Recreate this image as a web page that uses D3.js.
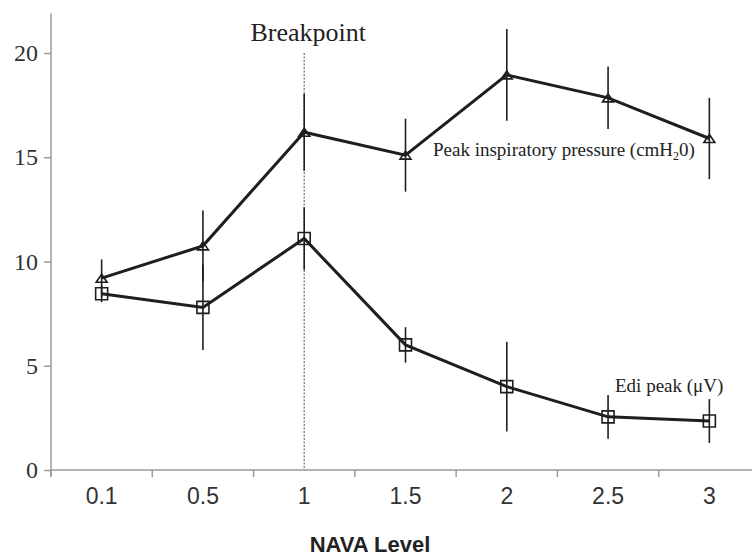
<!DOCTYPE html>
<html>
<head>
<meta charset="utf-8">
<script src="https://cdn.jsdelivr.net/npm/d3@7"></script>
<style>
  body { margin: 0; background: #fff; }
</style>
</head>
<body>
<div id="chart"></div>
<script>
var levels = ["0.1", "0.5", "1", "1.5", "2", "2.5", "3"];
var yTicks = [0, 5, 10, 15, 20];
// peak inspiratory pressure (cmH2O), mean and error
var pipMean = [9.2, 10.75, 16.2, 15.1, 18.95, 17.85, 15.9];
var pipErr = [0.9, 1.7, 1.85, 1.75, 2.2, 1.5, 1.95];
// Edi peak (uV), mean and error
var ediMean = [8.45, 7.8, 11.1, 6.0, 4.0, 2.55, 2.35];
var ediErr = [0.4, 2.05, 1.5, 0.85, 2.15, 1.05, 1.05];
var breakpoint = "1";

var width = 752, height = 558;

var svg = d3.select("#chart")
    .append("svg")
    .attr("width", width)
    .attr("height", height);

var x = d3.scaleBand().domain(levels).range([51, 760]);
var y = d3.scaleLinear().domain([0, 20]).range([470, 53]);
var cx = function (d) { return x(d) + x.bandwidth() / 2; };

var axisColor = "#9a9a9a";
var ink = "#1e1e1e";

// x axis
var xAxis = svg.append("g")
    .attr("transform", "translate(0," + y(0) + ")")
    .call(d3.axisBottom(x).tickSize(0).tickPadding(18));
xAxis.select(".domain").remove();
xAxis.append("line")
    .attr("x1", 51).attr("x2", width)
    .attr("stroke", axisColor).attr("stroke-width", 1.5);
xAxis.selectAll(".bound")
    .data(levels)
    .enter().append("line")
    .attr("x1", function (d) { return x(d); })
    .attr("x2", function (d) { return x(d); })
    .attr("y1", 0).attr("y2", 7)
    .attr("stroke", axisColor).attr("stroke-width", 1.5);
xAxis.selectAll(".tick text")
    .attr("font-family", "Liberation Sans, Arial, sans-serif")
    .attr("font-size", 23)
    .attr("fill", "#333");

// y axis
var yAxis = svg.append("g")
    .attr("transform", "translate(51,0)")
    .call(d3.axisLeft(y).tickValues(yTicks).tickSize(7).tickPadding(6));
yAxis.select(".domain").remove();
yAxis.append("line")
    .attr("y1", y(0) + 6).attr("y2", y(21.9))
    .attr("stroke", axisColor).attr("stroke-width", 1.5);
yAxis.selectAll(".tick line").attr("stroke", axisColor).attr("stroke-width", 1.5);
yAxis.selectAll(".tick text")
    .attr("font-family", "Liberation Serif, Times New Roman, serif")
    .attr("font-size", 24)
    .attr("fill", "#333");

svg.append("text")
    .attr("x", 370).attr("y", 552)
    .attr("text-anchor", "middle")
    .attr("font-family", "Liberation Sans, Arial, sans-serif")
    .attr("font-weight", "bold")
    .attr("font-size", 22)
    .attr("fill", "#222")
    .text("NAVA Level");

// breakpoint
svg.append("line")
    .attr("x1", cx(breakpoint)).attr("x2", cx(breakpoint))
    .attr("y1", y(20)).attr("y2", y(0))
    .attr("stroke", "#777").attr("stroke-width", 1.3)
    .attr("stroke-dasharray", "2,1.5");
svg.append("text")
    .attr("x", cx(breakpoint) + 4).attr("y", 41)
    .attr("text-anchor", "middle")
    .attr("font-family", "Liberation Serif, Times New Roman, serif")
    .attr("font-size", 26)
    .attr("fill", "#222")
    .text("Breakpoint");

function drawSeries(means, errs, shape) {
  var pts = levels.map(function (d, i) { return { k: d, v: means[i], e: errs[i] }; });
  var line = d3.line()
      .x(function (d) { return cx(d.k); })
      .y(function (d) { return y(d.v); });
  var g = svg.append("g");
  g.append("path")
      .datum(pts)
      .attr("d", line)
      .attr("fill", "none")
      .attr("stroke", ink)
      .attr("stroke-width", 3);
  g.selectAll(".err")
      .data(pts)
      .enter().append("line")
      .attr("x1", function (d) { return cx(d.k); })
      .attr("x2", function (d) { return cx(d.k); })
      .attr("y1", function (d) { return y(d.v + d.e); })
      .attr("y2", function (d) { return y(d.v - d.e); })
      .attr("stroke", ink)
      .attr("stroke-width", 1.6);
  g.selectAll(".mark")
      .data(pts)
      .enter().append("path")
      .attr("transform", function (d) { return "translate(" + cx(d.k) + "," + y(d.v) + ")"; })
      .attr("d", shape)
      .attr("fill", "none")
      .attr("stroke", ink)
      .attr("stroke-width", 1.6);
}

drawSeries(pipMean, pipErr, "M-5.5,4 L0,-4 L5.5,4 Z");
drawSeries(ediMean, ediErr, "M-6,-6 H6 V6 H-6 Z");

// series labels
var serif = "Liberation Serif, Times New Roman, serif";
var pipLabel = svg.append("text")
    .attr("x", 433).attr("y", 156)
    .attr("font-family", serif)
    .attr("font-size", 19)
    .attr("fill", "#222");
pipLabel.append("tspan").text("Peak inspiratory pressure (cmH");
pipLabel.append("tspan").attr("font-size", 12).attr("dy", 4).text("2");
pipLabel.append("tspan").attr("dy", -4).text("0)");

svg.append("text")
    .attr("x", 615).attr("y", 392)
    .attr("font-family", serif)
    .attr("font-size", 19)
    .attr("fill", "#222")
    .text("Edi peak (\u03bcV)");
</script>
</body>
</html>
